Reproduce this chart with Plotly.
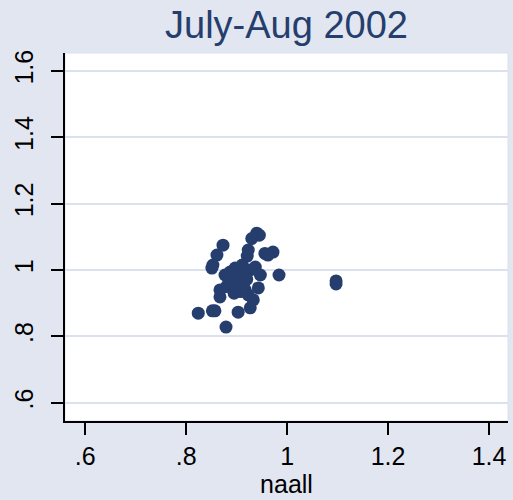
import plotly.graph_objects as go

# naall (x) vs. ratio (y), July-Aug 2002
naall = [0.940, 0.945, 0.930, 0.873, 0.923, 0.921, 0.861, 0.956, 0.972, 0.962,
         0.853, 0.851, 0.911, 0.897, 0.937, 0.927, 0.984, 0.947, 0.893, 0.877,
         0.887, 0.903, 0.883, 0.899, 0.913, 0.917, 0.867, 0.867, 0.943, 0.923,
         0.933, 0.927, 0.903, 0.857, 0.852, 0.824, 0.879, 1.097, 1.097, 0.905,
         0.890, 0.915, 0.880, 0.908, 0.920, 0.895]
ratio = [1.111, 1.105, 1.095, 1.075, 1.060, 1.042, 1.045, 1.050, 1.054, 1.045,
         1.015, 1.006, 1.015, 1.006, 1.009, 1.000, 0.985, 0.985, 0.970, 0.985,
         0.994, 0.976, 0.955, 0.946, 0.961, 0.940, 0.940, 0.919, 0.946, 0.925,
         0.910, 0.886, 0.873, 0.877, 0.877, 0.870, 0.828, 0.967, 0.958, 0.990,
         0.962, 0.980, 0.950, 0.935, 0.972, 0.930]

x_ticks = [0.6, 0.8, 1.0, 1.2, 1.4]
x_labels = [".6", ".8", "1", "1.2", "1.4"]
y_ticks = [0.6, 0.8, 1.0, 1.2, 1.4, 1.6]
y_labels = [".6", ".8", "1", "1.2", "1.4", "1.6"]

navy = "#253E6D"
bg = "#E1E6F0"
grid = "#DCE1EE"
font = "Liberation Sans, Arial, sans-serif"

fig = go.Figure(go.Scatter(
    x=naall, y=ratio, mode="markers",
    marker=dict(color=navy, size=13, line=dict(width=0)),
    showlegend=False,
))

fig.update_layout(
    width=513, height=500,
    margin=dict(l=65, r=5, t=53, b=79),
    paper_bgcolor=bg, plot_bgcolor="white",
    font=dict(family=font, color="black", size=25),
    title=dict(text="July-Aug 2002", x=0.5, xref="paper", xanchor="center",
               y=1 - 25 / 500, yref="container", yanchor="middle",
               font=dict(family=font, size=38, color=navy)),
    shapes=[dict(type="rect", xref="paper", yref="paper", x0=0, x1=1, y0=0, y1=1,
                 line=dict(color=grid, width=1), layer="below")],
)

fig.update_xaxes(
    range=[0.560, 1.4376], tickvals=x_ticks, ticktext=x_labels,
    showgrid=False, zeroline=False,
    showline=True, linecolor="black", linewidth=2,
    ticks="outside", ticklen=12, tickwidth=2, tickcolor="black",
    tickfont=dict(size=25), ticklabelstandoff=0,
    title=dict(text="naall", font=dict(size=25), standoff=0),
)
fig.update_yaxes(
    range=[0.545, 1.654], tickvals=y_ticks, ticktext=y_labels,
    showgrid=True, gridcolor=grid, gridwidth=1.5, zeroline=False,
    showline=True, linecolor="black", linewidth=2,
    ticks="outside", ticklen=12, tickwidth=2, tickcolor="black",
    tickangle=-90, tickfont=dict(size=25), ticklabelstandoff=8,
)

fig.write_html("out.html")
